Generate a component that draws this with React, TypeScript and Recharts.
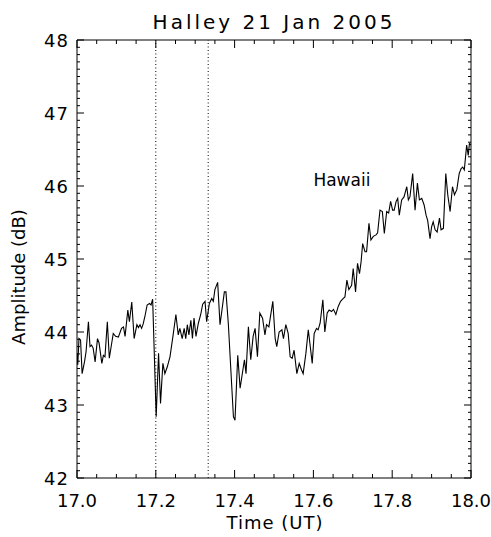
import React from 'react';
import { LineChart, Line, XAxis, YAxis, ReferenceLine, ReferenceDot } from 'recharts';

// Halley VLF amplitude, 21 Jan 2005, Hawaii transmitter
const times = [
  17.0, 17.002, 17.005, 17.009, 17.013, 17.019, 17.023, 17.029, 17.033, 17.037,
  17.041, 17.046, 17.052, 17.056, 17.063, 17.067, 17.071, 17.077, 17.082, 17.092,
  17.098, 17.105, 17.113, 17.118, 17.122, 17.129, 17.133, 17.139, 17.145, 17.152,
  17.156, 17.16, 17.164, 17.168, 17.173, 17.178, 17.184, 17.188, 17.192, 17.201,
  17.207, 17.212, 17.218, 17.223, 17.229, 17.236, 17.244, 17.251, 17.257, 17.261,
  17.267, 17.272, 17.276, 17.28, 17.284, 17.289, 17.293, 17.297, 17.302, 17.308,
  17.314, 17.319, 17.325, 17.329, 17.336, 17.342, 17.346, 17.35, 17.357, 17.363,
  17.374, 17.378, 17.384, 17.397, 17.401, 17.408, 17.414, 17.421, 17.425, 17.429,
  17.435, 17.441, 17.447, 17.452, 17.458, 17.464, 17.471, 17.477, 17.481, 17.487,
  17.497, 17.503, 17.507, 17.513, 17.52, 17.524, 17.53, 17.536, 17.541, 17.546,
  17.551, 17.558, 17.564, 17.57, 17.574, 17.581, 17.587, 17.591, 17.597, 17.602,
  17.608, 17.612, 17.617, 17.624, 17.629, 17.635, 17.64, 17.646, 17.651, 17.657,
  17.663, 17.669, 17.676, 17.68, 17.685, 17.69, 17.697, 17.701, 17.707, 17.712,
  17.717, 17.721, 17.725, 17.731, 17.735, 17.741, 17.746, 17.752, 17.759, 17.763,
  17.769, 17.775, 17.78, 17.786, 17.791, 17.796, 17.801, 17.805, 17.81, 17.814,
  17.818, 17.824, 17.83, 17.837, 17.841, 17.845, 17.852, 17.858, 17.864, 17.869,
  17.875, 17.881, 17.886, 17.89, 17.896, 17.9, 17.904, 17.909, 17.914, 17.92,
  17.924, 17.93, 17.936, 17.941, 17.947, 17.953, 17.958, 17.964, 17.97, 17.975,
  17.979, 17.983, 17.989, 17.993, 17.996, 18.0,
];

const amplitude = [
  43.71, 43.55, 43.91, 43.89, 43.43, 43.59, 43.73, 44.14, 43.8, 43.82,
  43.78, 43.59, 43.91, 43.85, 43.57, 43.68, 43.66, 44.14, 43.64, 43.98,
  43.94, 43.93, 44.05, 44.07, 43.94, 44.3, 44.14, 44.41, 43.91, 44.1,
  44.06, 44.1, 44.05, 44.11, 44.23, 44.37, 44.39, 44.37, 44.45, 42.84,
  43.71, 43.02, 43.57, 43.43, 43.52, 43.66, 43.96, 44.24, 43.96, 44.05,
  43.91, 44.05, 43.91, 44.1, 43.96, 44.16, 43.91, 44.19, 43.94, 44.12,
  44.24, 44.38, 44.42, 44.14, 44.39, 44.46, 44.42, 44.58, 44.68, 44.1,
  44.55, 44.55, 44.12, 42.84, 42.79, 43.68, 43.23, 43.48, 43.62, 43.43,
  44.07, 43.62, 43.94, 44.05, 43.66, 44.26, 44.19, 43.96, 44.1, 44.07,
  44.42, 43.91, 43.8, 44.0, 44.03, 43.91, 44.1, 43.98, 43.66, 43.64,
  43.75, 43.43, 43.57, 43.48, 43.43, 43.71, 44.03, 43.85, 43.57, 43.98,
  44.05, 44.03, 44.12, 44.44, 44.0, 44.26, 44.3, 44.28, 44.31, 44.24,
  44.35, 44.42, 44.46, 44.48, 44.71, 44.58, 44.64, 44.87, 44.55, 44.94,
  44.8, 44.96, 45.21, 45.1, 45.1, 45.49, 45.26, 45.31, 45.33, 45.36,
  45.67, 45.65, 45.35, 45.65, 45.63, 45.79, 45.67, 45.67, 45.79, 45.83,
  45.6, 45.81, 45.85, 45.99, 45.81, 45.85, 46.17, 45.67, 46.04, 45.81,
  45.83, 45.74, 45.6, 45.53, 45.28, 45.44, 45.51, 45.4, 45.37, 45.56,
  45.4, 45.42, 46.17, 45.88, 45.65, 45.99, 45.88, 45.95, 46.17, 46.24,
  46.26, 46.22, 46.56, 46.42, 46.58, 46.56,
];

const xMajor = [17.0, 17.2, 17.4, 17.6, 17.8, 18.0];
const yMajor = [42, 43, 44, 45, 46, 47, 48];
const eventTimes = [17.2, 17.333];

const series = times.map((t, i) => ({ t, a: amplitude[i] }));

// minor ticks: 4 per major interval on x, 10 on y
const xTicks: number[] = [];
for (let i = 0; i < xMajor.length - 1; i++) {
  for (let k = 0; k < 4; k++) xTicks.push(+(xMajor[i] + (k * (xMajor[i + 1] - xMajor[i])) / 4).toFixed(3));
}
xTicks.push(xMajor[xMajor.length - 1]);
const yTicks: number[] = [];
for (let i = 0; i < yMajor.length - 1; i++) {
  for (let k = 0; k < 10; k++) yTicks.push(+(yMajor[i] + k / 10).toFixed(2));
}
yTicks.push(yMajor[yMajor.length - 1]);

const font = '"DejaVu Sans", sans-serif';
const ink = '#000';
const AX = 10; // axis box size, taken out of the margins

const isMajor = (v: number, list: number[]) => list.some((m) => Math.abs(m - v) < 1e-6);

const XTick = (props: any) => {
  const { x, y, payload, side } = props;
  const v = payload.value;
  const major = isMajor(v, xMajor);
  const len = major ? 8 : 4;
  const dir = side === 'bottom' ? -1 : 1;
  return (
    <g>
      <line x1={x} y1={y} x2={x} y2={y + dir * len} stroke={ink} strokeWidth={1} />
      {side === 'bottom' && major && (
        <text x={x} y={y + 29} textAnchor="middle" fontFamily={font} fontSize={18} fill={ink}>
          {v.toFixed(1)}
        </text>
      )}
    </g>
  );
};

const YTick = (props: any) => {
  const { x, y, payload, side } = props;
  const v = payload.value;
  const major = isMajor(v, yMajor);
  const len = major ? 7 : 3;
  const dir = side === 'left' ? 1 : -1;
  return (
    <g>
      <line x1={x} y1={y} x2={x + dir * len} y2={y} stroke={ink} strokeWidth={1} />
      {side === 'left' && major && (
        <text x={x - 8} y={y + 6.5} textAnchor="end" fontFamily={font} fontSize={18} letterSpacing={1} fill={ink}>
          {v}
        </text>
      )}
    </g>
  );
};

const HawaiiLabel = (props: any) => {
  const { viewBox } = props;
  return (
    <text x={viewBox.x} y={viewBox.y} fontFamily={font} fontSize={17} fill={ink}>
      Hawaii
    </text>
  );
};

const axisCommon = {
  type: 'number' as const,
  allowDataOverflow: true,
  interval: 0 as const,
  tickSize: 0,
  tickMargin: 0,
  tickLine: false,
  axisLine: { stroke: ink },
};

export default function App() {
  return (
    <div style={{ position: 'absolute', left: 0, top: 0, background: '#fff' }}>
      <LineChart
        width={491}
        height={537}
        data={series}
        margin={{ top: 40 - AX, right: 20 - AX, bottom: 59 - AX, left: 77 - AX }}
      >
        <XAxis
          {...axisCommon}
          xAxisId="b"
          dataKey="t"
          domain={[17, 18]}
          ticks={xTicks}
          height={AX}
          tick={(p: any) => <XTick {...p} side="bottom" />}
        />
        <XAxis
          {...axisCommon}
          xAxisId="t"
          orientation="top"
          dataKey="t"
          domain={[17, 18]}
          ticks={xTicks}
          height={AX}
          tick={(p: any) => <XTick {...p} side="top" />}
        />
        <YAxis
          {...axisCommon}
          yAxisId="l"
          domain={[42, 48]}
          ticks={yTicks}
          width={AX}
          tick={(p: any) => <YTick {...p} side="left" />}
        />
        <YAxis
          {...axisCommon}
          yAxisId="r"
          orientation="right"
          domain={[42, 48]}
          ticks={yTicks}
          width={AX}
          tick={(p: any) => <YTick {...p} side="right" />}
        />
        {eventTimes.map((t) => (
          <ReferenceLine key={t} xAxisId="b" yAxisId="l" x={t} stroke={ink} strokeWidth={1} strokeDasharray="1 2.5" />
        ))}
        <Line
          xAxisId="b"
          yAxisId="l"
          type="linear"
          dataKey="a"
          stroke={ink}
          strokeWidth={1.1}
          dot={false}
          isAnimationActive={false}
        />
        <ReferenceDot xAxisId="b" yAxisId="l" x={17.6} y={46.0} r={0} stroke="none" fill="none" label={<HawaiiLabel />} />
        <text x={274} y={29} textAnchor="middle" fontFamily={font} fontSize={20} letterSpacing={3} fill={ink}>
          Halley 21 Jan 2005
        </text>
        <text x={275} y={529} textAnchor="middle" fontFamily={font} fontSize={18} letterSpacing={1} fill={ink}>
          Time (UT)
        </text>
        <text
          x={25}
          y={277}
          textAnchor="middle"
          transform="rotate(-90 25 277)"
          fontFamily={font}
          fontSize={18}
          fill={ink}
        >
          Amplitude (dB)
        </text>
      </LineChart>
    </div>
  );
}
